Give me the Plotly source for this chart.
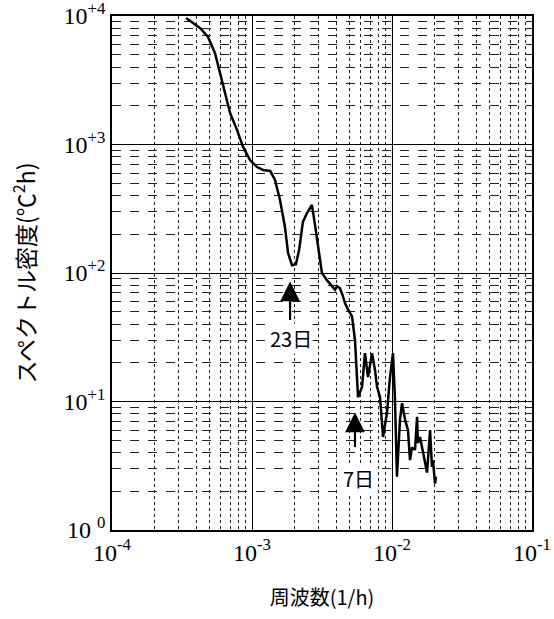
import plotly.graph_objects as go
import math

# Frequency (1/h) and spectral density (°C^2 h)
freq = [3.38e-4, 4.25e-4, 4.85e-4, 5.44e-4, 5.91e-4, 6.41e-4, 6.97e-4, 7.81e-4, 8.63e-4, 9.68e-4,
        1.086e-3, 1.20e-3, 1.35e-3, 1.46e-3, 1.585e-3, 1.72e-3, 1.81e-3, 1.93e-3, 2.06e-3, 2.17e-3,
        2.31e-3, 2.47e-3, 2.68e-3, 2.82e-3, 2.96e-3, 3.16e-3, 3.43e-3, 3.73e-3, 3.92e-3, 4.05e-3,
        4.25e-3, 4.40e-3, 4.62e-3, 4.85e-3, 5.18e-3, 5.44e-3, 5.72e-3, 6.11e-3, 6.41e-3, 6.74e-3,
        7.20e-3, 7.56e-3, 7.82e-3, 8.21e-3, 8.63e-3, 9.20e-3, 9.68e-3, 1.016e-2, 1.05e-2, 1.085e-2,
        1.14e-2, 1.18e-2, 1.24e-2, 1.30e-2, 1.345e-2, 1.39e-2, 1.46e-2, 1.51e-2, 1.53e-2, 1.585e-2,
        1.66e-2, 1.78e-2, 1.87e-2, 1.93e-2, 1.96e-2, 2.03e-2, 2.06e-2]
psd = [9650, 8070, 6870, 5150, 3600, 2520, 1760, 1300, 957, 757,
       668, 634, 622, 530, 370, 228, 143, 115, 117, 151,
       250, 293, 338, 236, 165, 100, 88, 78, 74, 79,
       76, 69, 58, 52, 46, 30, 10.8, 13, 23.8, 15.5,
       23.8, 17.6, 13, 10.8, 5.3, 8.1, 15.5, 23.8, 10.3, 2.6,
       7.2, 9.7, 7.2, 6.0, 3.5, 4.4, 4.2, 7.6, 4.75, 5.3,
       4.0, 2.8, 6.0, 3.1, 3.5, 2.3, 2.6]

x_tickvals = [1e-4, 1e-3, 1e-2, 1e-1]
x_ticktext = ["10<sup>-4</sup>", "10<sup>-3</sup>", "10<sup>-2</sup>", "10<sup>-1</sup>"]
y_tickvals = [1, 10, 100, 1000, 10000]
y_ticktext = ["10 <sup>0</sup>", "10<sup>+1</sup>", "10<sup>+2</sup>", "10<sup>+3</sup>", "10<sup>+4</sup>"]

# Annotated periods: (arrow frequency, tip value, tail value, label frequency, label value, label)
marks = [
    (1.87e-3, 86, 42, 1.89e-3, 31, "23日"),
    (5.44e-3, 8.2, 4.3, 5.75e-3, 2.5, "7日"),
]

x_minor = [m * 10 ** e for e in range(-4, -1) for m in range(2, 10)]
y_minor = [m * 10 ** e for e in range(0, 4) for m in range(2, 10)]

serif = "Liberation Serif, Times New Roman, serif"
jp = "Noto Sans CJK JP, sans-serif"

fig = go.Figure()
fig.add_trace(go.Scatter(x=freq, y=psd, mode="lines",
                         line=dict(color="black", width=2.5), showlegend=False))

for f, tip, tail, lf, lab, txt in marks:
    fig.add_annotation(x=math.log10(f), y=math.log10(tip), ax=math.log10(f), ay=math.log10(tail),
                       xref="x", yref="y", axref="x", ayref="y", text="", showarrow=True,
                       arrowhead=2, arrowsize=1.8, arrowwidth=2.2, arrowcolor="black")
    fig.add_annotation(x=math.log10(lf), y=math.log10(lab), xref="x", yref="y", text=txt,
                       showarrow=False, font=dict(family=jp, size=20, color="black"),
                       bgcolor="white", borderpad=0)

fig.update_xaxes(type="log", range=[-4, -1], tickmode="array", tickvals=x_tickvals,
                 ticktext=x_ticktext, ticks="", showgrid=True, gridcolor="black", gridwidth=1,
                 showline=True, linecolor="black", linewidth=1.5, mirror=True, zeroline=False,
                 tickfont=dict(family=serif, size=24, color="black"), ticklabeloverflow="allow",
                 automargin="bottom",
                 minor=dict(tickmode="array", tickvals=x_minor, showgrid=True,
                            gridcolor="#222", gridwidth=1, griddash="dot", ticks=""),
                 title=dict(text="周波数(1/h)", font=dict(family=jp, size=20, color="black"),
                            standoff=26))
fig.update_yaxes(type="log", range=[0, 4], tickmode="array", tickvals=y_tickvals,
                 ticktext=y_ticktext, ticks="", showgrid=True, gridcolor="black", gridwidth=1,
                 showline=True, linecolor="black", linewidth=1.5, mirror=True, zeroline=False,
                 tickfont=dict(family=serif, size=24, color="black"), ticklabeloverflow="allow",
                 automargin="left",
                 minor=dict(tickmode="array", tickvals=y_minor, showgrid=True,
                            gridcolor="#222", gridwidth=1, griddash="dash", ticks=""),
                 title=dict(text="スペクトル密度(℃<sup>2</sup>h)",
                            font=dict(family=jp, size=23, color="black"), standoff=22))

fig.update_layout(width=554, height=619, margin=dict(l=112, r=22, t=16, b=89),
                  paper_bgcolor="white", plot_bgcolor="white")
fig.write_html("out.html")
